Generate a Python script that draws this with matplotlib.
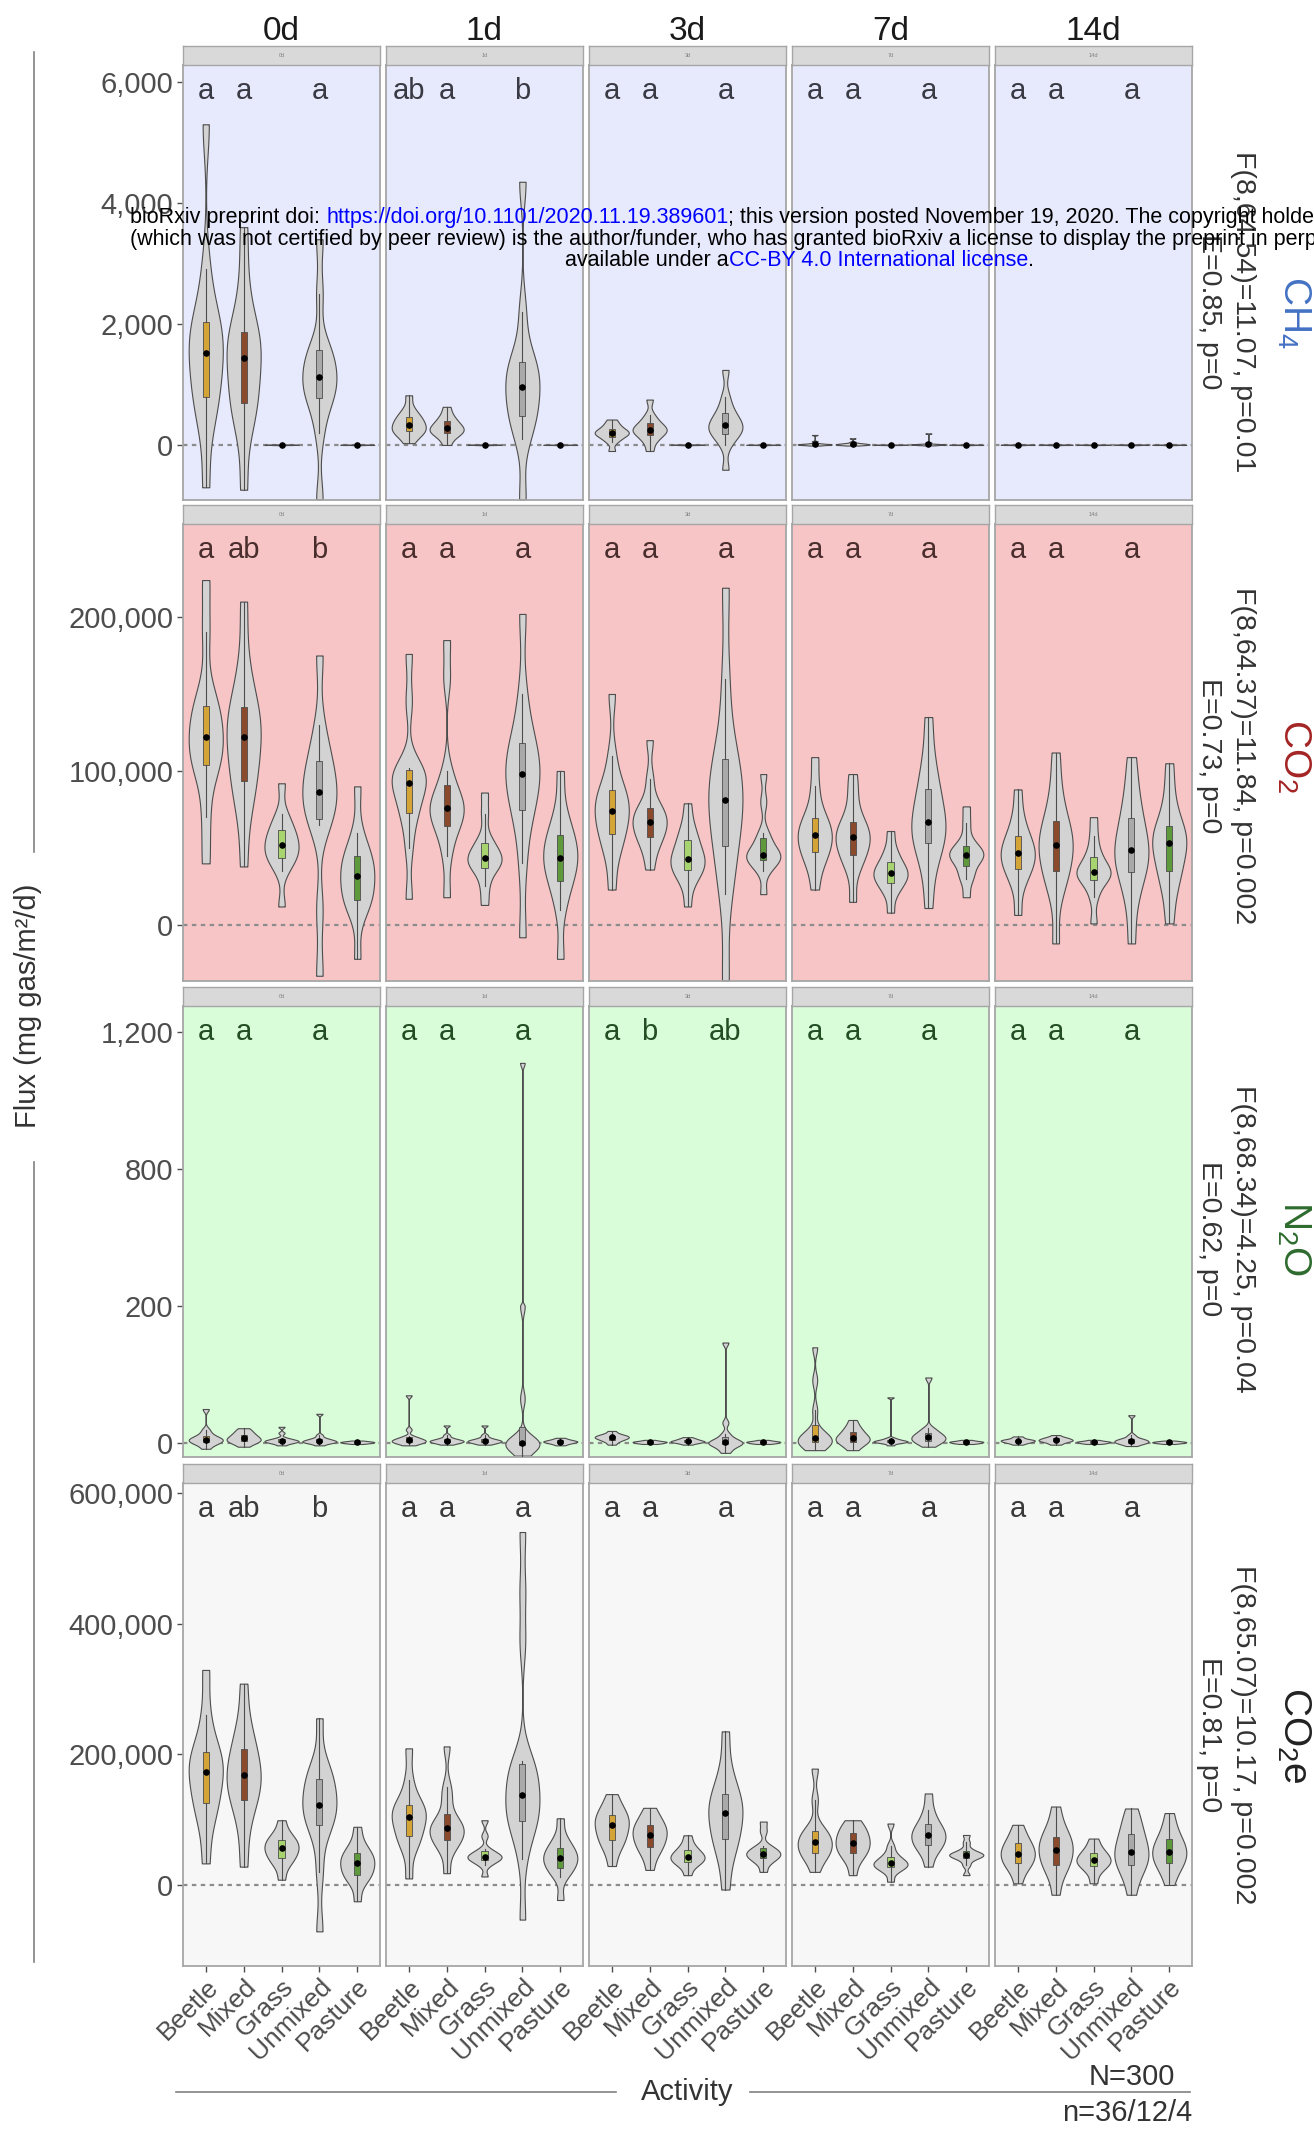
import numpy as np
import matplotlib
matplotlib.use("Agg")
import matplotlib.pyplot as plt
import matplotlib.transforms as mtrans
from matplotlib.ticker import FuncFormatter
from matplotlib.offsetbox import TextArea, HPacker, AnnotationBbox

plt.rcParams['font.family'] = ['Liberation Sans', 'DejaVu Sans']
plt.rcParams['mathtext.fontset'] = 'custom'
plt.rcParams['mathtext.rm'] = 'Liberation Sans'
plt.rcParams['mathtext.it'] = 'Liberation Sans:italic'

days = ['0d', '1d', '3d', '7d', '14d']
activities = ['Beetle', 'Mixed', 'Grass', 'Unmixed', 'Pasture']
box_colors = ['#D4A437', '#8B4A2B', '#A8D46F', '#A9A9A9', '#5E9A3C']

# samples, order: Beetle, Mixed, Grass, Unmixed, Pasture
ch4_0d = [[-700, 350, 750, 800, 1200, 1450, 1580, 1850, 2000, 2100, 2900, 5300],
          [-740, 300, 650, 700, 1000, 1350, 1520, 1700, 1850, 1950, 2700, 3600],
          [-6, -2, 0, 1, 2, 3, 3, 4, 5, 6, 8, 10],
          [-900, 200, 700, 800, 950, 1050, 1200, 1350, 1550, 1600, 2500, 3400],
          [-4, -1, 0, 1, 2, 2, 3, 3, 4, 5, 6, 8]]
ch4_1d = [[30, 150, 200, 230, 260, 310, 350, 400, 450, 500, 600, 820],
          [0, 120, 180, 200, 240, 260, 290, 320, 380, 420, 500, 630],
          [-5, -2, 0, 1, 2, 3, 3, 4, 5, 6, 8, 10],
          [-900, 100, 400, 500, 700, 900, 1030, 1200, 1350, 1450, 2200, 4350],
          [-4, -1, 0, 1, 1, 2, 2, 3, 3, 4, 5, 7]]
ch4_3d = [[-100, 50, 100, 150, 170, 190, 210, 230, 260, 300, 350, 420],
          [-100, 50, 120, 180, 220, 240, 260, 300, 350, 400, 500, 750],
          [-5, -2, 0, 1, 2, 3, 3, 4, 5, 6, 8, 10],
          [-410, 0, 150, 200, 250, 300, 360, 400, 500, 600, 800, 1240],
          [-4, -1, 0, 1, 1, 2, 2, 3, 3, 4, 5, 7]]
ch4_7d = [[-10, 0, 2, 5, 8, 10, 12, 15, 20, 30, 60, 165],
          [-10, 0, 3, 5, 8, 10, 15, 20, 25, 30, 50, 110],
          [-4, -1, 0, 1, 2, 2, 3, 3, 4, 5, 6, 8],
          [-8, 0, 2, 4, 6, 8, 10, 12, 15, 20, 40, 190],
          [-4, -1, 0, 1, 2, 2, 3, 3, 4, 5, 6, 8]]
ch4_14d = [[-6, -2, 0, 1, 2, 3, 3, 4, 5, 6, 8, 12],
           [-6, -2, 0, 1, 2, 3, 3, 4, 5, 6, 8, 10],
           [-4, -1, 0, 1, 2, 2, 3, 3, 4, 5, 6, 8],
           [-5, -2, 0, 1, 2, 3, 3, 4, 5, 6, 8, 10],
           [-4, -1, 0, 1, 2, 2, 3, 3, 4, 5, 6, 8]]

co2_0d = [[40000, 70000, 100000, 105000, 112000, 118000, 126000, 135000, 140000, 150000, 190000, 224000],
          [38000, 75000, 90000, 95000, 110000, 118000, 126000, 132000, 140000, 146000, 170000, 210000],
          [12000, 35000, 42000, 44000, 48000, 50000, 54000, 58000, 60000, 66000, 72000, 92000],
          [-33000, 10000, 65000, 70000, 78000, 84000, 89000, 96000, 105000, 112000, 130000, 175000],
          [-22000, 10000, 14000, 17000, 25000, 30000, 33000, 40000, 44000, 47000, 60000, 90000]]
co2_1d = [[17000, 50000, 70000, 74000, 85000, 90000, 94000, 98000, 100000, 102000, 145000, 176000],
          [18000, 45000, 60000, 66000, 72000, 75000, 77000, 82000, 88000, 100000, 160000, 185000],
          [13000, 25000, 35000, 38000, 41000, 43000, 44000, 47000, 52000, 56000, 72000, 86000],
          [-8000, 40000, 70000, 76000, 90000, 96000, 100000, 108000, 116000, 125000, 150000, 202000],
          [-22000, 10000, 25000, 30000, 38000, 42000, 45000, 52000, 57000, 62000, 75000, 100000]]
co2_3d = [[23000, 45000, 55000, 60000, 68000, 72000, 76000, 82000, 86000, 92000, 110000, 150000],
          [36000, 48000, 55000, 58000, 63000, 66000, 68000, 72000, 75000, 80000, 95000, 120000],
          [12000, 28000, 34000, 36000, 40000, 42000, 44000, 48000, 54000, 58000, 65000, 79000],
          [-36000, 20000, 40000, 55000, 70000, 78000, 84000, 95000, 104000, 120000, 160000, 219000],
          [20000, 35000, 40000, 43000, 44000, 45000, 46000, 50000, 55000, 60000, 80000, 98000]]
co2_7d = [[23000, 38000, 45000, 48000, 54000, 57000, 60000, 64000, 68000, 75000, 90000, 109000],
          [15000, 35000, 44000, 46000, 52000, 56000, 58000, 62000, 65000, 72000, 85000, 98000],
          [8000, 20000, 25000, 28000, 31000, 33000, 34000, 37000, 40000, 44000, 50000, 61000],
          [11000, 35000, 50000, 54000, 60000, 65000, 69000, 78000, 86000, 95000, 110000, 135000],
          [18000, 30000, 33000, 40000, 43000, 45000, 46000, 48000, 50000, 55000, 66000, 77000]]
co2_14d = [[6500, 25000, 34000, 37000, 42000, 45000, 48000, 52000, 56000, 62000, 72000, 88000],
           [-12000, 20000, 32000, 36000, 45000, 50000, 54000, 60000, 65000, 75000, 90000, 112000],
           [1000, 18000, 27000, 30000, 33000, 34000, 35000, 38000, 43000, 48000, 58000, 70000],
           [-12000, 15000, 30000, 36000, 44000, 47000, 50000, 58000, 68000, 75000, 90000, 109000],
           [1000, 20000, 32000, 36000, 45000, 51000, 55000, 58000, 62000, 70000, 85000, 105000]]

n2o_0d = [[-8, -2, 0, 2, 4, 5, 6, 8, 10, 14, 20, 50],
          [-5, 0, 2, 3, 5, 6, 8, 10, 12, 15, 18, 22],
          [-3, 0, 1, 2, 3, 3, 4, 5, 6, 8, 15, 24],
          [-3, 0, 1, 2, 2, 3, 4, 5, 6, 8, 12, 43],
          [-1, 0, 0, 1, 1, 1, 2, 2, 2, 3, 3, 4]]
n2o_1d = [[-3, 0, 1, 2, 3, 4, 5, 6, 8, 10, 20, 70],
          [-2, 0, 1, 2, 3, 3, 4, 5, 6, 8, 12, 26],
          [-2, 0, 1, 2, 3, 3, 4, 5, 6, 8, 12, 26],
          [-18, -10, -5, -2, 0, 0, 1, 3, 10, 65, 200, 1110],
          [-3, -1, 0, 1, 2, 2, 3, 3, 4, 5, 6, 8]]
n2o_3d = [[-2, 2, 4, 6, 7, 8, 9, 10, 11, 12, 14, 18],
          [-1, 0, 0, 1, 1, 2, 2, 2, 3, 3, 4, 5],
          [-2, 0, 1, 2, 2, 3, 3, 4, 5, 6, 7, 9],
          [-14, -8, -4, -1, 0, 1, 2, 4, 8, 14, 30, 147],
          [-1, 0, 0, 1, 1, 2, 2, 2, 3, 3, 4, 5]]
n2o_7d = [[-10, -4, 0, 2, 4, 6, 8, 12, 20, 48, 92, 140],
          [-10, -3, 0, 3, 5, 7, 9, 12, 16, 20, 25, 34],
          [-3, 0, 1, 2, 2, 3, 3, 4, 5, 6, 8, 67],
          [-5, 0, 2, 4, 6, 8, 10, 12, 14, 18, 22, 96],
          [-1, 0, 0, 1, 1, 2, 2, 2, 3, 3, 4, 5]]
n2o_14d = [[-2, 0, 1, 2, 3, 3, 4, 5, 5, 6, 8, 10],
           [-2, 0, 2, 3, 4, 4, 5, 6, 7, 8, 9, 12],
           [-1, 0, 0, 1, 1, 2, 2, 2, 3, 3, 4, 5],
           [-4, -1, 0, 1, 2, 3, 4, 5, 6, 8, 12, 41],
           [-1, 0, 0, 1, 1, 1, 2, 2, 2, 3, 3, 4]]

co2e_0d = [[33000, 90000, 120000, 128000, 150000, 168000, 178000, 190000, 200000, 215000, 260000, 329000],
           [28000, 85000, 125000, 132000, 150000, 163000, 173000, 185000, 205000, 220000, 250000, 308000],
           [8000, 30000, 38000, 42000, 50000, 54000, 58000, 62000, 68000, 72000, 80000, 99000],
           [-71000, 20000, 80000, 95000, 110000, 118000, 126000, 140000, 160000, 170000, 180000, 255000],
           [-25000, 5000, 12000, 16000, 25000, 31000, 35000, 42000, 47000, 52000, 65000, 89000]]
co2e_1d = [[10000, 55000, 70000, 76000, 92000, 100000, 108000, 115000, 120000, 130000, 160000, 209000],
           [18000, 55000, 65000, 70000, 80000, 85000, 88000, 95000, 102000, 130000, 150000, 212000],
           [13000, 30000, 36000, 38000, 41000, 43000, 44000, 47000, 50000, 55000, 75000, 99000],
           [-53000, 40000, 85000, 95000, 102000, 115000, 130000, 138000, 160000, 172000, 180000, 190000,
            372000, 451000, 540000],
           [-23000, 12000, 22000, 27000, 35000, 39000, 43000, 50000, 55000, 62000, 75000, 102000]]
co2e_3d = [[29000, 55000, 65000, 70000, 80000, 88000, 94000, 100000, 105000, 112000, 122000, 139000],
           [23000, 45000, 55000, 60000, 68000, 75000, 79000, 85000, 90000, 96000, 105000, 118000],
           [15000, 28000, 33000, 36000, 40000, 42000, 44000, 48000, 52000, 56000, 64000, 76000],
           [-7000, 40000, 65000, 72000, 90000, 105000, 115000, 125000, 135000, 150000, 180000, 235000],
           [20000, 33000, 38000, 42000, 45000, 47000, 49000, 52000, 56000, 60000, 82000, 97000]]
co2e_7d = [[20000, 40000, 46000, 50000, 58000, 64000, 68000, 75000, 80000, 90000, 130000, 178000],
           [15000, 38000, 46000, 50000, 58000, 62000, 66000, 72000, 78000, 84000, 90000, 99000],
           [5000, 20000, 25000, 28000, 31000, 32000, 34000, 38000, 42000, 48000, 60000, 94000],
           [28000, 50000, 58000, 62000, 70000, 75000, 78000, 85000, 90000, 100000, 115000, 140000],
           [15000, 30000, 38000, 42000, 44000, 45000, 47000, 48000, 50000, 55000, 65000, 76500]]
co2e_14d = [[2500, 22000, 30000, 34000, 42000, 46000, 50000, 56000, 62000, 68000, 78000, 92000],
            [-15000, 15000, 28000, 32000, 45000, 51000, 56000, 66000, 72000, 80000, 95000, 120000],
            [2500, 18000, 26000, 30000, 34000, 37000, 39000, 44000, 48000, 52000, 60000, 71000],
            [-15000, 12000, 26000, 32000, 42000, 48000, 54000, 64000, 75000, 85000, 100000, 117000],
            [0, 20000, 30000, 34000, 44000, 49000, 53000, 60000, 68000, 76000, 90000, 110000]]

ch4_letters = [['a', 'a', 'a'], ['ab', 'a', 'b'], ['a', 'a', 'a'], ['a', 'a', 'a'], ['a', 'a', 'a']]
co2_letters = [['a', 'ab', 'b'], ['a', 'a', 'a'], ['a', 'a', 'a'], ['a', 'a', 'a'], ['a', 'a', 'a']]
n2o_letters = [['a', 'a', 'a'], ['a', 'a', 'a'], ['a', 'b', 'ab'], ['a', 'a', 'a'], ['a', 'a', 'a']]
co2e_letters = [['a', 'ab', 'b'], ['a', 'a', 'a'], ['a', 'a', 'a'], ['a', 'a', 'a'], ['a', 'a', 'a']]

gas_labels = [r'CH$_4$', r'CO$_2$', r'N$_2$O', r'CO$_2$e']
gas_colors = ['#4472C4', '#A32424', '#2E6B2E', '#222222']
f_stats = ['F(8,64.54)=11.07, p=0.01', 'F(8,64.37)=11.84, p=0.002',
           'F(8,68.34)=4.25, p=0.04', 'F(8,65.07)=10.17, p=0.002']
e_stats = ['E=0.85, p=0', 'E=0.73, p=0', 'E=0.62, p=0', 'E=0.81, p=0']

y_ticks = [[0, 2000, 4000, 6000], [0, 100000, 200000], [0, 200, 800, 1200], [0, 200000, 400000, 600000]]
y_lims = [(-910, 6280), (-36400, 260400), (-20, 1276), (-124000, 615000)]
bg_colors = ['#E7E9FD', '#F7C5C6', '#D9FCD9', '#F7F7F7']
letter_colors = ['#3A3A44', '#4A2E2E', '#234D23', '#3A3A3A']

all_data = [[ch4_0d, ch4_1d, ch4_3d, ch4_7d, ch4_14d],
            [co2_0d, co2_1d, co2_3d, co2_7d, co2_14d],
            [n2o_0d, n2o_1d, n2o_3d, n2o_7d, n2o_14d],
            [co2e_0d, co2e_1d, co2e_3d, co2e_7d, co2e_14d]]
all_letters = [ch4_letters, co2_letters, n2o_letters, co2e_letters]

# N2O axis in the source is piecewise: 0-200-800-1200 evenly spaced
n2o_knots = [0, 200, 800, 1200]


def n2o_fwd(y):
    y = np.asarray(y, dtype=float)
    return np.where(y < 0, y / 200.0,
                    np.where(y > 1200, 3 + (y - 1200) / 400.0, np.interp(y, n2o_knots, [0, 1, 2, 3])))


def n2o_inv(u):
    u = np.asarray(u, dtype=float)
    return np.where(u < 0, u * 200.0,
                    np.where(u > 3, 1200 + (u - 3) * 400.0, np.interp(u, [0, 1, 2, 3], n2o_knots)))


def nrd0_factor(kde):
    """ R's default bandwidth (nrd0), as a factor of the sample sd """
    x = np.ravel(kde.dataset)
    sd = np.std(x, ddof=1)
    q75, q25 = np.percentile(x, [75, 25])
    lo = min(sd, (q75 - q25) / 1.34)
    if lo <= 0:
        lo = sd
    return 0.9 * lo * len(x) ** -0.2 / sd


W, H = 1314, 2130
fig = plt.figure(figsize=(W / 100, H / 100), dpi=100)
fig.patch.set_facecolor('white')

row_tops = [65, 524, 1006, 1483]
row_bottoms = [500, 981, 1457, 1966]
col_lefts = [183, 386, 589, 792, 995]
col_w = 197
strip_h = 19
text_rows = [312, 756, 1239, 1735]
pos = np.arange(1, 6)

for r in range(4):
    h_px = row_bottoms[r] - row_tops[r]
    for c in range(5):
        ax = fig.add_axes([col_lefts[c] / W, 1 - row_bottoms[r] / H, col_w / W, h_px / H])
        ax.set_facecolor(bg_colors[r])
        if r == 2:
            ax.set_yscale('function', functions=(n2o_fwd, n2o_inv))
        groups = [np.array(g, dtype=float) for g in all_data[r][c]]
        ax.axhline(0, color='#8C8C8C', ls=(0, (2, 2)), lw=1.6, zorder=1)
        vp = ax.violinplot(groups, positions=pos, widths=0.9, showextrema=False,
                           points=1500, bw_method=nrd0_factor)
        for body in vp['bodies']:
            body.set_facecolor('#D3D3D3')
            body.set_edgecolor('#4D4D4D')
            body.set_linewidth(0.8)
            body.set_alpha(1)
            body.set_zorder(2)
        bp = ax.boxplot(groups, positions=pos, widths=0.16, patch_artist=True, showfliers=False,
                        showcaps=False, manage_ticks=False, zorder=3,
                        boxprops=dict(edgecolor='#4D4D4D', linewidth=0.6),
                        whiskerprops=dict(color='#4D4D4D', linewidth=0.8),
                        medianprops=dict(linewidth=0))
        for patch, col in zip(bp['boxes'], box_colors):
            patch.set_facecolor(col)
        ax.scatter(pos, [np.median(g) for g in groups], s=14, color='black', zorder=4)

        trans = mtrans.blended_transform_factory(ax.transData, ax.transAxes)
        for xp, lt in zip([1, 2, 4], all_letters[r][c]):
            ax.text(xp, 1 - 26 / h_px, lt, transform=trans, ha='center', va='center',
                    fontsize=21, color=letter_colors[r])

        ax.set_xlim(0.4, 5.6)
        ax.set_ylim(*y_lims[r])
        ax.set_xticks(pos)
        ax.set_yticks(y_ticks[r])
        ax.yaxis.set_minor_locator(plt.NullLocator())
        for sp in ax.spines.values():
            sp.set_color('#A6A6A6')
            sp.set_linewidth(1.3)
        if c == 0:
            ax.yaxis.set_major_formatter(FuncFormatter(lambda v, p: f'{v:,.0f}'))
            ax.tick_params(axis='y', length=4, width=1, color='#4D4D4D', labelsize=21,
                           labelcolor='#4D4D4D', pad=3)
        else:
            ax.tick_params(axis='y', length=0, labelleft=False)
        if r == 3:
            ax.set_xticklabels(activities, rotation=45, ha='right', va='top',
                               rotation_mode='anchor', fontsize=19, color='#4D4D4D')
            ax.tick_params(axis='x', length=4, width=1, color='#4D4D4D', pad=2)
        else:
            ax.tick_params(axis='x', length=0, labelbottom=False)

        # facet strip
        sax = fig.add_axes([col_lefts[c] / W, 1 - row_tops[r] / H, col_w / W, strip_h / H])
        sax.set_facecolor('#D9D9D9')
        sax.set_xticks([])
        sax.set_yticks([])
        for sp in sax.spines.values():
            sp.set_color('#A6A6A6')
            sp.set_linewidth(1.0)
        sax.text(0.5, 0.5, days[c], ha='center', va='center', fontsize=4, color='#7F7F7F',
                 transform=sax.transAxes)

# overlay for shared labels and decorations (pixel coordinates)
ov = fig.add_axes([0, 0, 1, 1], zorder=10)
ov.set_xlim(0, W)
ov.set_ylim(H, 0)
ov.axis('off')

for c in range(5):
    ov.text(col_lefts[c] + col_w / 2, 31, days[c], ha='center', va='center', fontsize=24, color='#1A1A1A')

for r in range(4):
    yc = text_rows[r]
    ov.text(1294, yc, gas_labels[r], rotation=-90, ha='center', va='center', fontsize=28,
            color=gas_colors[r])
    ov.text(1243, yc, f_stats[r], rotation=-90, ha='center', va='center', fontsize=20.5, color='#333333')
    ov.text(1209, yc, e_stats[r], rotation=-90, ha='center', va='center', fontsize=20.5, color='#333333')

ov.text(28, 1006, 'Flux (mg gas/m²/d)', rotation=90, ha='center', va='center', fontsize=21, color='#333333')
ov.plot([34, 34], [52, 852], color='#808080', lw=1.2)
ov.plot([34, 34], [1162, 1962], color='#808080', lw=1.2)

ov.text(687, 2092, 'Activity', ha='center', va='center', fontsize=21, color='#333333')
ov.plot([176, 616], [2092, 2092], color='#808080', lw=1.2)
ov.plot([750, 1190], [2092, 2092], color='#808080', lw=1.2)
ov.text(1175, 2077, 'N=300', ha='right', va='center', fontsize=21, color='#333333')
ov.text(1192, 2113, 'n=36/12/4', ha='right', va='center', fontsize=21, color='#333333')

# bioRxiv stamp
wm_lines = [
    (130, 217, [('bioRxiv preprint doi: ', 'black'),
                ('https://doi.org/10.1101/2020.11.19.389601', 'blue'),
                ('; this version posted November 19, 2020. The copyright holder for this preprint', 'black')]),
    (130, 239, [('(which was not certified by peer review) is the author/funder, who has granted bioRxiv '
                 'a license to display the preprint in perpetuity. It is made', 'black')]),
    (565, 261, [('available under a', 'black'), ('CC-BY 4.0 International license', 'blue'), ('.', 'black')]),
]
for x0, y0, pieces in wm_lines:
    boxes = [TextArea(s, textprops=dict(color=col, fontsize=15.5)) for s, col in pieces]
    pack = HPacker(children=boxes, align='baseline', pad=0, sep=0)
    ab = AnnotationBbox(pack, (x0, y0), xycoords='data', box_alignment=(0, 0.5),
                        frameon=False, pad=0, annotation_clip=False)
    ov.add_artist(ab)

fig.savefig('out.png', dpi=100, facecolor='white')
